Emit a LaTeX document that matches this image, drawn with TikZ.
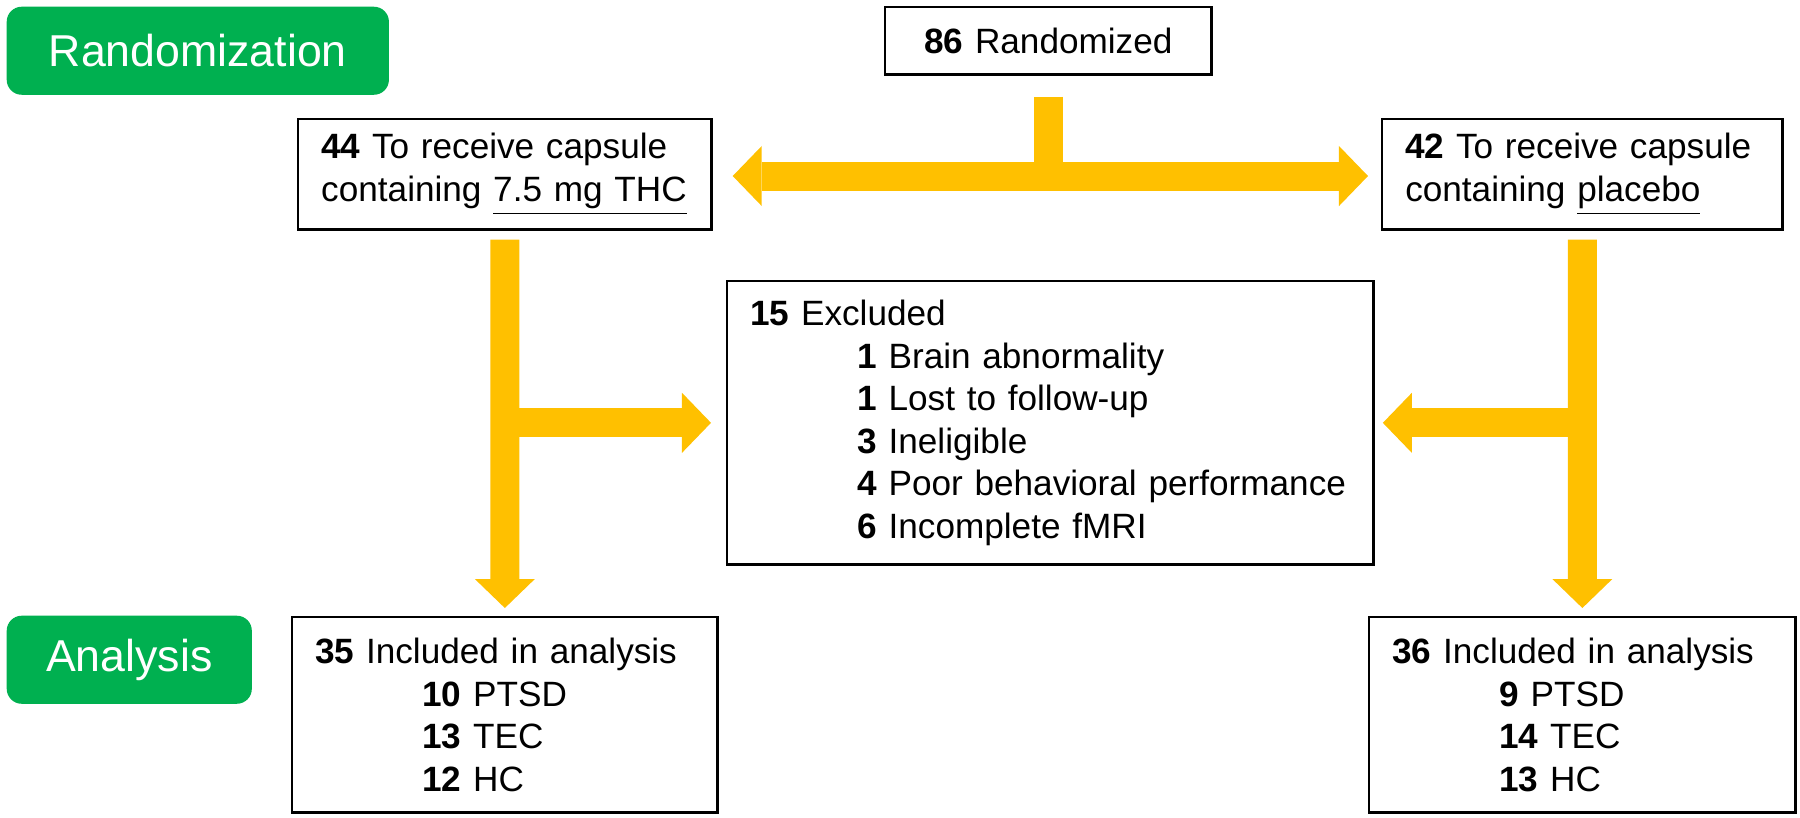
\documentclass[tikz,border=0pt]{standalone}
\usepackage{fontspec}
\setmainfont{Liberation Sans}
\usetikzlibrary{arrows.meta}
\definecolor{flowgold}{HTML}{FFC000}
\definecolor{stagegreen}{HTML}{00B050}
\begin{document}
\begin{tikzpicture}
  [x=0.01cm,y=-0.01cm,
   box/.style={draw,line width=0.7pt,anchor=north west,align=left,inner xsep=0.23cm,inner ysep=0pt,font=\fontsize{10}{12.1}\selectfont},
   stage/.style={fill=stagegreen,rounded corners=0.15cm,text=white,anchor=north west,inner sep=0pt,font=\fontsize{12.7}{15}\selectfont},
   flow/.style={draw=flowgold,line width=0.29cm,>={Triangle[length=0.29cm,width=0.6cm,line width=0pt]}}]
  \useasboundingbox (0,0) rectangle (1800,817);

  \node[stage,minimum width=3.82cm,minimum height=0.88cm] (randstage) at (6,6) {Randomization};
  \node[stage,minimum width=2.45cm,minimum height=0.88cm] (anastage) at (6,615) {Analysis};

  \node[box,align=center,text width=2.80cm,minimum height=0.67cm] (rand) at (884,6) {\textbf{86} Randomized};
  \node[box,text width=3.67cm,minimum height=1.10cm] (thc) at (297,118) {\textbf{44} To receive capsule\\containing \underline{7.5 mg THC}};
  \node[box,text width=3.54cm,minimum height=1.10cm] (plac) at (1381,118) {\textbf{42} To receive capsule\\containing \underline{placebo}};
  \node[box,text width=6.00cm,minimum height=2.83cm] (excl) at (726,280) {\textbf{15} Excluded\\
    \hspace*{1.07cm}\textbf{1} Brain abnormality\\
    \hspace*{1.07cm}\textbf{1} Lost to follow-up\\
    \hspace*{1.07cm}\textbf{3} Ineligible\\
    \hspace*{1.07cm}\textbf{4} Poor behavioral performance\\
    \hspace*{1.07cm}\textbf{6} Incomplete fMRI};
  \node[box,text width=3.79cm,minimum height=1.95cm] (inclA) at (291,616) {\textbf{35} Included in analysis\\
    \hspace*{1.07cm}\textbf{10} PTSD\\
    \hspace*{1.07cm}\textbf{13} TEC\\
    \hspace*{1.07cm}\textbf{12} HC};
  \node[box,text width=3.80cm,minimum height=1.95cm] (inclB) at (1368,616) {\textbf{36} Included in analysis\\
    \hspace*{1.07cm}\textbf{9} PTSD\\
    \hspace*{1.07cm}\textbf{14} TEC\\
    \hspace*{1.07cm}\textbf{13} HC};

  \coordinate (split) at (1047,176);
  \draw[flow,shorten <=0.21cm] (rand.south) -- (rand.south |- split);
  \draw[flow,<->,shorten <=0.20cm,shorten >=0.13cm] (thc.east |- split) -- (plac.west |- split);
  \draw[flow,->,shorten <=0.09cm,shorten >=0.08cm] (thc.south) -- (inclA.north);
  \draw[flow,->,shorten >=0.15cm] (thc.south |- excl.west) -- (excl.west);
  \draw[flow,->,shorten <=0.09cm,shorten >=0.08cm] (plac.south) -- (inclB.north);
  \draw[flow,->,shorten >=0.08cm] (plac.south |- excl.east) -- (excl.east);
\end{tikzpicture}
\end{document}
